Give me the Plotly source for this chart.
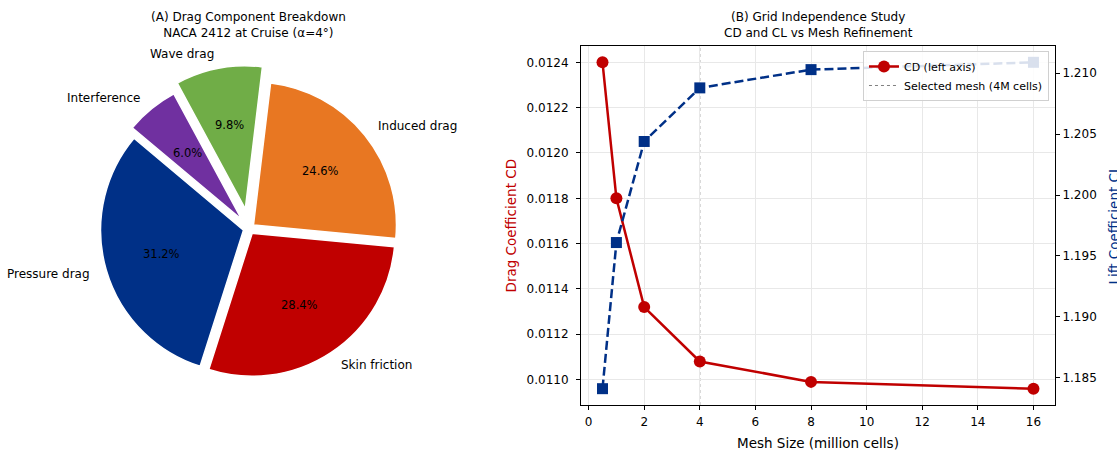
import math
import plotly.graph_objects as go

# ---- Panel A: drag component breakdown (percent of total drag) ----
drag_components = ["Pressure drag", "Skin friction", "Induced drag", "Wave drag", "Interference"]
drag_share = [31.2, 28.4, 24.6, 9.8, 6.0]
drag_colors = ["#003087", "#C00000", "#E87722", "#70AD47", "#7030A0"]
drag_pull = [0.04, 0.04, 0.04, 0.14, 0.08]
pie_start_deg = 140  # counter-clockwise start, measured from 3 o'clock

# ---- Panel B: grid independence study ----
mesh_cells = [0.5, 1, 2, 4, 8, 16]              # million cells
cd_values = [0.01240, 0.01180, 0.01132, 0.01108, 0.01099, 0.01096]
cl_values = [1.1841, 1.1961, 1.2044, 1.2088, 1.2103, 1.2109]
selected_mesh = 4

x_ticks = [0, 2, 4, 6, 8, 10, 12, 14, 16]
cd_ticks = [0.0110, 0.0112, 0.0114, 0.0116, 0.0118, 0.0120, 0.0122, 0.0124]
cl_ticks = [1.185, 1.190, 1.195, 1.200, 1.205, 1.210]

CD_COLOR = "#C00000"
CL_COLOR = "#003087"
FONT = "DejaVu Sans"
W, H = 1117, 450
LABEL_DIST = 1.1   # slice names, in radii from the slice centre
PCT_DIST = 0.6     # percentages, in radii from the slice centre


def padded(vals, frac=0.05):
    lo, hi = min(vals), max(vals)
    pad = (hi - lo) * frac
    return [lo - pad, hi + pad]


fig = go.Figure()

# plotly measures rotation clockwise from 12 o'clock; with counter-clockwise
# direction the first slice sits clockwise of that angle
total = sum(drag_share)
rotation = 90 - pie_start_deg - 360 * drag_share[0] / total
pie_domain = dict(x=[0.0770, 0.3689], y=[0.130, 0.8544])

fig.add_trace(go.Pie(
    labels=drag_components, values=drag_share, sort=False,
    direction="counterclockwise", rotation=rotation, pull=drag_pull,
    domain=pie_domain,
    marker=dict(colors=drag_colors, line=dict(color="white", width=1.5)),
    textinfo="none", showlegend=False, hoverinfo="label+percent",
))

# slice labels: same geometry plotly uses for the pie (radius shrinks by max pull)
box_w = W * (pie_domain["x"][1] - pie_domain["x"][0])
box_h = H * (pie_domain["y"][1] - pie_domain["y"][0])
radius = min(box_w, box_h) / 2 / (1 + max(drag_pull))
cx = W * sum(pie_domain["x"]) / 2
cy = H * (1 - sum(pie_domain["y"]) / 2)

pie_annotations = []
cum = 0.0
for name, share, pull in zip(drag_components, drag_share, drag_pull):
    a0 = pie_start_deg + 360 * cum / total
    cum += share
    a1 = pie_start_deg + 360 * cum / total
    mid = math.radians((a0 + a1) / 2)
    ux, uy = math.cos(mid), -math.sin(mid)
    sx, sy = cx + pull * radius * ux, cy + pull * radius * uy
    lx, ly = sx + LABEL_DIST * radius * ux, sy + LABEL_DIST * radius * uy
    pie_annotations.append(dict(
        text=name, x=lx / W, y=1 - ly / H, xref="paper", yref="paper",
        showarrow=False, xanchor="left" if ux > 0 else "right", yanchor="middle",
        font=dict(family=FONT, size=12, color="black")))
    px_, py_ = sx + PCT_DIST * radius * ux, sy + PCT_DIST * radius * uy
    pie_annotations.append(dict(
        text=f"{share:.1f}%", x=px_ / W, y=1 - py_ / H, xref="paper", yref="paper",
        showarrow=False, xanchor="center", yanchor="middle",
        font=dict(family=FONT, size=11.5, color="black")))

# CD vs mesh size (left axis)
fig.add_trace(go.Scatter(
    x=mesh_cells, y=cd_values, mode="lines+markers", name="CD (left axis)",
    line=dict(color=CD_COLOR, width=2.5),
    marker=dict(symbol="circle", size=12, color=CD_COLOR),
    xaxis="x", yaxis="y",
))
# legend handle for the selected-mesh marker line
fig.add_trace(go.Scatter(
    x=[None], y=[None], mode="lines", name="Selected mesh (4M cells)",
    line=dict(color="#808080", width=1, dash="dot"),
    xaxis="x", yaxis="y",
))
# CL vs mesh size (right axis)
fig.add_trace(go.Scatter(
    x=mesh_cells, y=cl_values, mode="lines+markers", name="CL (right axis)",
    line=dict(color=CL_COLOR, width=2.5, dash="9px,4px"),
    marker=dict(symbol="square", size=11, color=CL_COLOR),
    xaxis="x", yaxis="y2", showlegend=False,
))

fig.add_shape(type="line", xref="x", yref="paper",
              x0=selected_mesh, x1=selected_mesh, y0=0.1, y1=0.8978,
              line=dict(color="#808080", width=1, dash="dot"), layer="below")

axis_common = dict(
    showline=True, linecolor="black", linewidth=1, mirror=True,
    ticks="outside", ticklen=4, tickcolor="black",
    tickfont=dict(family=FONT, size=12, color="black"),
    zeroline=False, automargin=False,
)

fig.update_layout(
    width=W, height=H,
    margin=dict(l=0, r=0, t=0, b=0, autoexpand=False),
    paper_bgcolor="white", plot_bgcolor="white",
    font=dict(family=FONT, color="black"),
    xaxis=dict(domain=[0.5201, 0.9445], range=padded(mesh_cells),
               tickvals=x_ticks, showgrid=True, gridcolor="#e8e8e8",
               anchor="y", ticklabelstandoff=2, **axis_common),
    yaxis=dict(domain=[0.1, 0.8978], range=padded(cd_values),
               tickvals=cd_ticks, tickformat=".4f", showgrid=True,
               gridcolor="#e8e8e8", anchor="x", ticklabelstandoff=5,
               **axis_common),
    yaxis2=dict(range=padded(cl_values), tickvals=cl_ticks, tickformat=".3f",
                overlaying="y", side="right", anchor="x", showgrid=False,
                **axis_common),
    legend=dict(x=0.9391, y=0.8867, xanchor="right", yanchor="top",
                bgcolor="rgba(255,255,255,0.85)", bordercolor="#d0d0d0",
                borderwidth=1, font=dict(family=FONT, size=11, color="black"),
                tracegroupgap=0, itemwidth=30),
    annotations=pie_annotations + [
        dict(text="(A) Drag Component Breakdown<br>NACA 2412 at Cruise (α=4°)",
             x=248 / W, y=1 - 25.5 / H, xref="paper", yref="paper",
             showarrow=False, xanchor="center", yanchor="middle",
             font=dict(family=FONT, size=12, color="black")),
        dict(text="(B) Grid Independence Study<br>CD and CL vs Mesh Refinement",
             x=818 / W, y=1 - 25.5 / H, xref="paper", yref="paper",
             showarrow=False, xanchor="center", yanchor="middle",
             font=dict(family=FONT, size=12, color="black")),
        dict(text="Mesh Size (million cells)", x=818 / W, y=1 - 443 / H,
             xref="paper", yref="paper", showarrow=False,
             xanchor="center", yanchor="middle",
             font=dict(family=FONT, size=13.5, color="black")),
        dict(text="Drag Coefficient CD", x=511 / W, y=1 - 225.5 / H,
             xref="paper", yref="paper", showarrow=False, textangle=-90,
             xanchor="center", yanchor="middle",
             font=dict(family=FONT, size=13.5, color=CD_COLOR)),
        dict(text="Lift Coefficient CL", x=1114 / W, y=1 - 225.5 / H,
             xref="paper", yref="paper", showarrow=False, textangle=-90,
             xanchor="center", yanchor="middle",
             font=dict(family=FONT, size=13.5, color=CL_COLOR)),
    ],
)

fig.write_html("out.html")
